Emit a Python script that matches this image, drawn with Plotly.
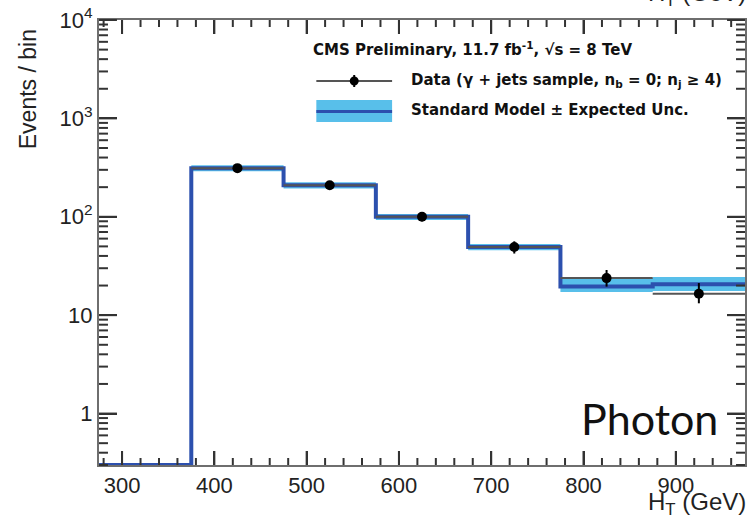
import plotly.graph_objects as go
import numpy as np

# ---------------- data ----------------
bin_edges = [275, 375, 475, 575, 675, 775, 875, 975]
sm_values = [0, 312, 209, 100, 49.3, 19.6, 20.6]
sm_upper = [0, 334, 224, 107, 52.8, 23.8, 24.4]
sm_lower = [0, 290, 194, 93, 45.8, 17.2, 17.6]
data_x = [425, 525, 625, 725, 825, 925]
data_y = [312, 209, 100, 49.3, 23.8, 16.5]
data_err_up = [17.7, 14.5, 10, 7, 5.0, 4.7]
data_err_dn = [17.7, 14.5, 10, 7, 4.3, 3.3]
data_xerr = [50, 50, 50, 50, 50, 50]
y_tickvals = [1, 10, 100, 1000, 10000]
y_ticktext = ["1", "10", "10<sup>2</sup>", "10<sup>3</sup>", "10<sup>4</sup>"]
x_tickvals = [300, 400, 500, 600, 700, 800, 900]

YMIN, YMAX = 0.3, 1e4
XMIN, XMAX = 275, 975

DARK = "#2c50ae"
LIGHT = "#58bfea"
AX = "#6e6e6e"
TICK = "#333333"
FONT = "Liberation Sans, Arial, sans-serif"
LFONT = "DejaVu Sans, sans-serif"

# plot-area pixel geometry helpers (for legend / labels only)
W, H = 747, 516
L, R, T, B = 99, 0, 20, 51
PW, PH = W - L - R, H - T - B
def px(x):
    return (x - L) / PW
def py(y):
    return (H - B - y) / PH

def floor(v):
    return max(v, YMIN * 0.999)

# minor tick positions: 2..9 x each decade on the log axis, every 20 GeV on x
y_minor = [float(m * 10.0 ** d) for d in range(-1, 4) for m in range(2, 10) if YMIN <= m * 10.0 ** d <= YMAX]
x_minor = [v for v in range(280, 980, 20) if v not in x_tickvals]

fig = go.Figure()

# uncertainty band (only filled bins)
band_x = bin_edges[1:]
up = sm_upper[1:] + [sm_upper[-1]]
dn = sm_lower[1:] + [sm_lower[-1]]
fig.add_trace(go.Scatter(x=band_x, y=dn, mode="lines", line=dict(width=0, shape="hv", color=LIGHT),
                         hoverinfo="skip", showlegend=False))
fig.add_trace(go.Scatter(x=band_x, y=up, mode="lines", line=dict(width=0, shape="hv", color=LIGHT),
                         fill="tonexty", fillcolor=LIGHT, hoverinfo="skip", showlegend=False))

# SM step line
sm_plot = [floor(v) for v in sm_values]
fig.add_trace(go.Scatter(x=bin_edges, y=sm_plot + [sm_plot[-1]], mode="lines",
                         line=dict(width=4, shape="hv", color=DARK), showlegend=False))

# data points
fig.add_trace(go.Scatter(
    x=data_x, y=data_y, mode="markers",
    marker=dict(color="black", size=10),
    error_y=dict(type="data", symmetric=False, array=data_err_up, arrayminus=data_err_dn,
                 color="black", thickness=2, width=0),
    error_x=dict(type="data", array=data_xerr, color="#555555", thickness=2, width=0),
    showlegend=False))

fig.update_xaxes(range=[XMIN, XMAX], showline=True, linecolor=AX, linewidth=2, mirror="ticks",
                 ticks="inside", ticklen=14, tickcolor=TICK, tickwidth=2, showgrid=False, zeroline=False,
                 tickmode="array", tickvals=x_tickvals,
                 tickfont=dict(family=FONT, size=22, color="#222"))
fig.update_yaxes(type="log", range=[np.log10(YMIN), np.log10(YMAX)], showline=True, linecolor=AX, linewidth=2,
                 mirror="ticks", ticks="inside", ticklen=18, tickcolor=TICK, tickwidth=2, showgrid=False,
                 zeroline=False, tickmode="array", tickvals=y_tickvals, ticktext=y_ticktext,
                 tickfont=dict(family=FONT, size=22, color="#222"))

ann = []
# legend header
ann.append(dict(x=px(312), y=py(49), xref="paper", yref="paper", xanchor="left", yanchor="middle",
                text="<b>CMS Preliminary, 11.7 fb<sup>-1</sup>, √s = 8 TeV</b>", showarrow=False,
                font=dict(family=LFONT, size=15, color="#111")))
ann.append(dict(x=px(410), y=py(80), xref="paper", yref="paper", xanchor="left", yanchor="middle",
                text="<b>Data (γ + jets sample, n<sub>b</sub> = 0; n<sub>j</sub> ≥ 4)</b>", showarrow=False,
                font=dict(family=LFONT, size=15, color="#111")))
ann.append(dict(x=px(410), y=py(110), xref="paper", yref="paper", xanchor="left", yanchor="middle",
                text="<b>Standard Model ± Expected Unc.</b>", showarrow=False,
                font=dict(family=LFONT, size=15, color="#111")))
# axis titles
ann.append(dict(x=px(28), y=py(89), xref="paper", yref="paper", xanchor="center", yanchor="middle",
                text="Events / bin", textangle=-90, showarrow=False,
                font=dict(family=FONT, size=23, color="#222")))
ann.append(dict(x=px(750), y=py(486), xref="paper", yref="paper", xanchor="right", yanchor="top",
                text="H<sub>T</sub> (GeV)", showarrow=False,
                font=dict(family=FONT, size=24, color="#222")))
# cut-off title from panel above
ann.append(dict(x=px(750), y=py(12), xref="paper", yref="paper", xanchor="right", yanchor="bottom",
                text="H<sub>T</sub> (GeV)", showarrow=False,
                font=dict(family=FONT, size=24, color="#222")))
# Photon label
ann.append(dict(x=px(722), y=py(418), xref="paper", yref="paper", xanchor="right", yanchor="middle",
                text="Photon", showarrow=False,
                font=dict(family="Lato, sans-serif", size=43, color="#111")))

shapes = []
# ROOT-style inside tick marks on all four sides (positions derived from tick arrays and axis range)
def xfrac(v):
    return float((v - XMIN) / (XMAX - XMIN))
def yfrac(v):
    return float((np.log10(v) - np.log10(YMIN)) / (np.log10(YMAX) - np.log10(YMIN)))
for vals, ln in ((x_tickvals, 14), (x_minor, 7)):
    for v in vals:
        f = xfrac(v)
        shapes.append(dict(type="line", xref="paper", yref="paper", x0=f, x1=f, y0=0.0, y1=ln / PH,
                           line=dict(color=TICK, width=2), layer="above"))
        shapes.append(dict(type="line", xref="paper", yref="paper", x0=f, x1=f, y0=1.0, y1=1 - ln / PH,
                           line=dict(color=TICK, width=2), layer="above"))
for vals, ln in ((y_tickvals, 18), (y_minor, 9)):
    for v in vals:
        f = yfrac(v)
        shapes.append(dict(type="line", xref="paper", yref="paper", y0=f, y1=f, x0=0.0, x1=ln / PW,
                           line=dict(color=TICK, width=2), layer="above"))
        shapes.append(dict(type="line", xref="paper", yref="paper", y0=f, y1=f, x0=1.0, x1=1 - ln / PW,
                           line=dict(color=TICK, width=2), layer="above"))

# legend: data row
shapes.append(dict(type="line", xref="paper", yref="paper", x0=px(317), x1=px(393), y0=py(81), y1=py(81),
                   line=dict(color="#555555", width=2)))
shapes.append(dict(type="line", xref="paper", yref="paper", x0=px(355), x1=px(355), y0=py(75), y1=py(87),
                   line=dict(color="black", width=2)))
shapes.append(dict(type="circle", xref="paper", yref="paper", x0=px(350.5), x1=px(359.5), y0=py(76.5), y1=py(85.5),
                   fillcolor="black", line=dict(color="black", width=0)))
# legend: SM row
shapes.append(dict(type="rect", xref="paper", yref="paper", x0=px(317), x1=px(393), y0=py(122), y1=py(100),
                   fillcolor=LIGHT, line=dict(width=0)))
shapes.append(dict(type="line", xref="paper", yref="paper", x0=px(317), x1=px(393), y0=py(111.5), y1=py(111.5),
                   line=dict(color=DARK, width=3)))

fig.update_layout(width=W, height=H, margin=dict(l=L, r=R, t=T, b=B),
                  paper_bgcolor="white", plot_bgcolor="white",
                  annotations=ann, shapes=shapes, showlegend=False)

fig.write_html("out.html")
